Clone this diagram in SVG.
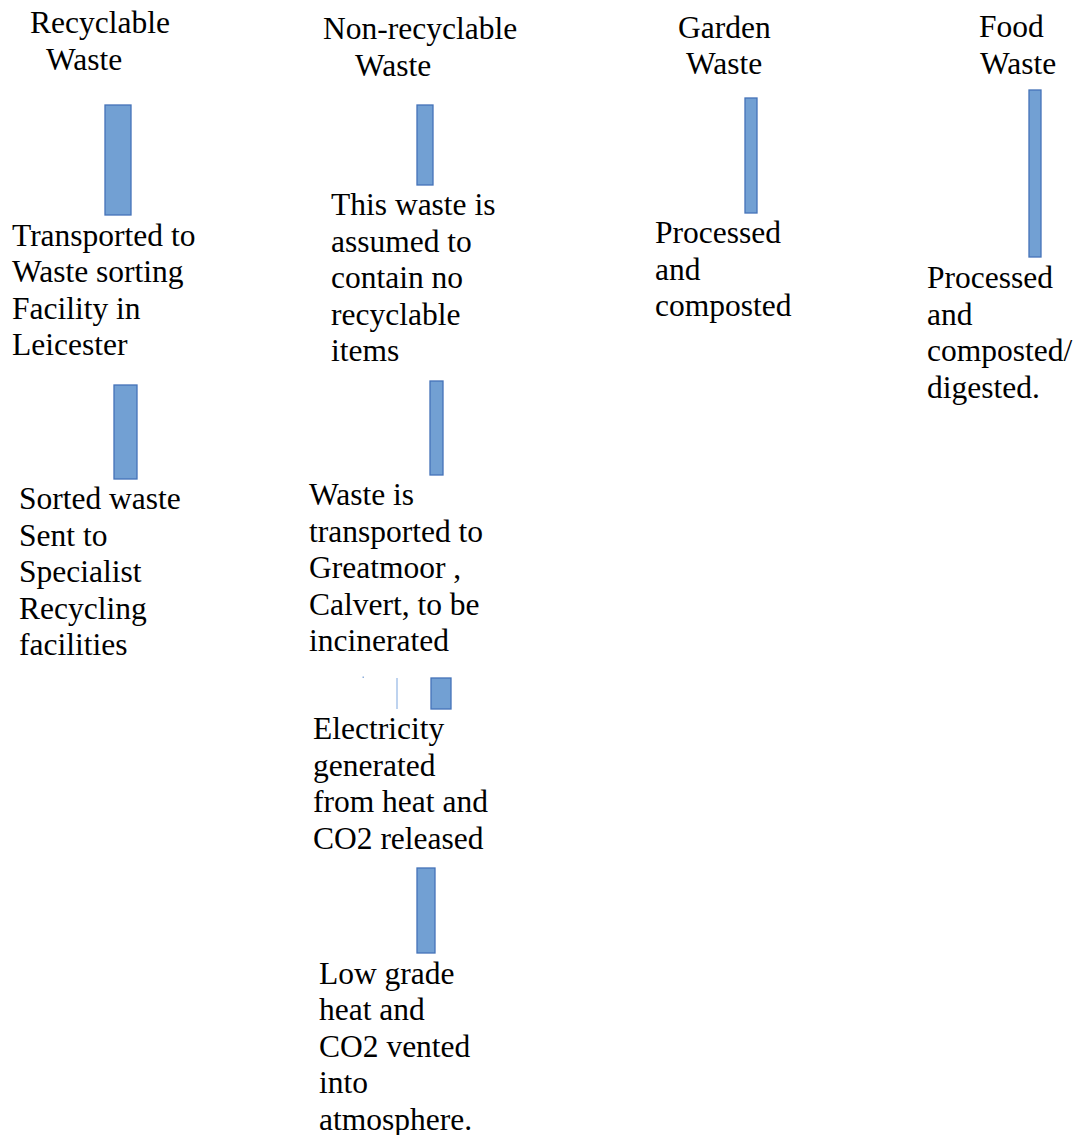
<svg xmlns="http://www.w3.org/2000/svg" width="1076" height="1135" viewBox="0 0 1076 1135">
<style>
.t{font-family:"Liberation Serif","Times New Roman",serif;font-size:31.5px;fill:#000}
.bar{fill:#72a0d3;stroke:#4472b8;stroke-width:1.3}
</style>
<rect width="1076" height="1135" fill="#fff"/>
<g id="connectors">
<rect class="bar" x="105" y="105" width="26" height="110"/>
<rect class="bar" x="114" y="385" width="23" height="94"/>
<rect class="bar" x="417" y="105" width="16" height="80"/>
<rect class="bar" x="430" y="381" width="13" height="94"/>
<rect class="bar" x="431" y="678" width="20" height="31"/>
<line x1="397" y1="678" x2="397" y2="709" stroke="#a8c4ea" stroke-width="1.5"/>
<rect x="362.5" y="676.5" width="1.5" height="1.5" fill="#8fb0dc"/>
<rect class="bar" x="417" y="868" width="18" height="85"/>
<rect class="bar" x="745" y="98" width="12" height="115"/>
<rect class="bar" x="1029" y="90" width="12" height="167"/>
</g>
<g id="recyclable">
<text class="t"><tspan x="30" y="33">Recyclable</tspan><tspan x="46" y="70">Waste</tspan></text>
</g>
<g id="nonrecyclable">
<text class="t"><tspan x="323" y="39">Non-recyclable</tspan><tspan x="355" y="76">Waste</tspan></text>
</g>
<g id="garden">
<text class="t"><tspan x="678" y="38">Garden</tspan><tspan x="686" y="74">Waste</tspan></text>
</g>
<g id="food">
<text class="t"><tspan x="979" y="37">Food</tspan><tspan x="980" y="74">Waste</tspan></text>
</g>
<g id="transported">
<text class="t"><tspan x="12" y="245.5">Transported to</tspan><tspan x="12" y="282.1">Waste sorting</tspan><tspan x="12" y="318.7">Facility in</tspan><tspan x="12" y="355.3">Leicester</tspan></text>
</g>
<g id="sorted">
<text class="t"><tspan x="19" y="509">Sorted waste</tspan><tspan x="19" y="545.6">Sent to</tspan><tspan x="19" y="582.2">Specialist</tspan><tspan x="19" y="618.8">Recycling</tspan><tspan x="19" y="655.4">facilities</tspan></text>
</g>
<g id="assumed">
<text class="t"><tspan x="331" y="215">This waste is</tspan><tspan x="331" y="251.6">assumed to</tspan><tspan x="331" y="288.2">contain no</tspan><tspan x="331" y="324.8">recyclable</tspan><tspan x="331" y="361.4">items</tspan></text>
</g>
<g id="incinerated">
<text class="t"><tspan x="309" y="505">Waste is</tspan><tspan x="309" y="541.6">transported to</tspan><tspan x="309" y="578.2">Greatmoor ,</tspan><tspan x="309" y="614.8">Calvert, to be</tspan><tspan x="309" y="651.4">incinerated</tspan></text>
</g>
<g id="electricity">
<text class="t"><tspan x="313" y="739">Electricity</tspan><tspan x="313" y="775.6">generated</tspan><tspan x="313" y="812.2">from heat and</tspan><tspan x="313" y="848.8">CO2 released</tspan></text>
</g>
<g id="lowgrade">
<text class="t"><tspan x="319" y="984">Low grade</tspan><tspan x="319" y="1020.4">heat and</tspan><tspan x="319" y="1056.8">CO2 vented</tspan><tspan x="319" y="1093.2">into</tspan><tspan x="319" y="1129.6">atmosphere.</tspan></text>
</g>
<g id="garden-processed">
<text class="t"><tspan x="655" y="243">Processed</tspan><tspan x="655" y="279.6">and</tspan><tspan x="655" y="316.2">composted</tspan></text>
</g>
<g id="food-processed">
<text class="t"><tspan x="927" y="288">Processed</tspan><tspan x="927" y="324.6">and</tspan><tspan x="927" y="361.2">composted/</tspan><tspan x="927" y="397.8">digested.</tspan></text>
</g>
</svg>
